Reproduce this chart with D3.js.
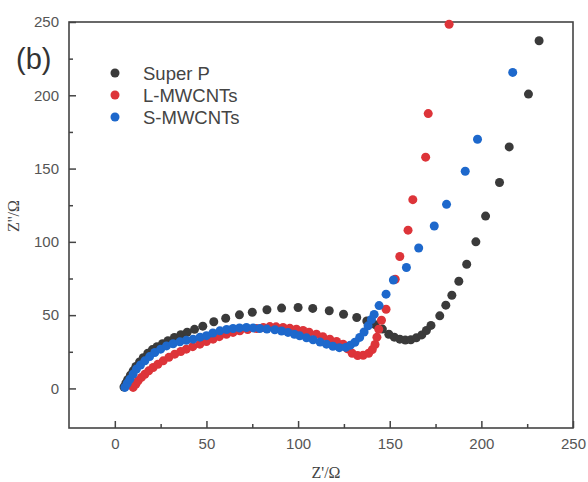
<html>
<head>
<meta charset="utf-8">
<script src="https://cdn.jsdelivr.net/npm/d3@7"></script>
<style>
  body { margin: 0; background: white; }
  svg { display: block; }
  .tick text { font-family: "Liberation Sans", Arial, sans-serif; font-size: 15px; fill: #555; }
  .tick line { stroke: #444; stroke-width: 1.5; }
</style>
</head>
<body>
<svg id="chart"></svg>
<script>
// series names and colours, in legend order
let seriesNames = ["Super P", "L-MWCNTs", "S-MWCNTs"];
let seriesColors = ["#3a3a3a", "#dd3439", "#1d68cc"];

// tick values
let xTicks = [0, 50, 100, 150, 200, 250];
let xMinor = [25, 75, 125, 175, 225];
let yTicks = [0, 50, 100, 150, 200, 250];
let yMinor = [25, 75, 125, 175, 225];

// [Z', Z''] points
let superP = [
  [5,1],[6,3.5],[7,6],[8.5,9],[10,12],[11.5,15],[13.5,18],[15.5,21],[18,24],[20.5,26.5],
  [23,28.5],[26,30.5],[29,32.5],[32.5,34.8],[36,36.6],[39.5,38.3],[43.5,40.3],[48,42.5],
  [54,45.5],[60.5,47.9],[68,50.2],[75,52],[83,53.7],[91,54.8],[100,55.2],[108,54.6],
  [117,53],[124.8,50.6],[132,48.4],[137.5,46],[142,43.5],[146,40.5],[149.5,37],[152.5,35],
  [155.5,33.6],[158.5,33],[161.5,33.2],[164.5,34.5],[167.5,36.5],[170,39.5],[172.5,43],
  [177.3,49.5],[180.6,56.8],[183.9,63.6],[187.7,73.1],[192,84.7],[197,100],[202.3,117.6],
  [209.9,140.5],[215.2,164.8],[225.7,200.8],[231.5,237.2]
];
let lMwcnts = [
  [10,0.7],[11.5,3],[12.7,5.2],[14.5,7.5],[16.4,9.7],[18.5,12],[20.9,14.3],[23.5,16.5],
  [26.4,18.8],[29.5,21.2],[32.7,23.4],[36,25.2],[39,26.8],[42.5,28.5],[46.4,30.2],[50,32],
  [53.6,33.6],[57,35.3],[60.9,37],[64.5,38.2],[68.2,39.3],[72.5,40.2],[77.3,40.9],[81,41.6],
  [84.6,42.2],[88,42],[91.8,41.6],[95.5,41],[99.1,40.4],[102.7,39.5],[106,38.3],[110,37],
  [113.5,35.3],[117.3,33.6],[121,32],[124.6,30.2],[127,27],[129.5,24],[132.5,22.5],
  [135.5,22.6],[138.5,24],[140.5,26.5],[142,30],[143,35],[144,40.4],[145.5,46.5],[148,54],
  [153,74.5],[155.5,90],[160,108],[162.6,128.8],[169.6,157.8],[171,187.5],[182.4,248.5]
];
let sMwcnts = [
  [5.5,0.7],[6.8,3.5],[8.2,6.3],[10,9.8],[11.8,13.2],[14,16],[16.4,18.8],[19,21.7],
  [21.8,24.5],[25,26.8],[28.2,29],[31.8,30.5],[35.5,31.8],[39,32.8],[42.7,33.6],[46.5,35],
  [50,36],[53.5,37.8],[57.3,39.3],[61,40.2],[64.5,40.9],[68,41.3],[71.8,41.6],[75.5,41.3],
  [79.1,40.9],[83,40.5],[87.3,40],[91,39.2],[94.5,38.2],[98,37],[100.9,35.9],[104.6,34.5],
  [108.2,33.2],[112,31.6],[115.5,30.2],[119,28.8],[122.5,27.8],[126,28],[128.5,29.5],
  [131,31.5],[133.6,34.8],[136,38.5],[138.2,42.7],[140,47],[141.5,50.5],[144.2,56.5],
  [148,64.3],[152,74],[159.1,82.5],[165.8,95.8],[174.3,110.8],[181,125.6],[191.2,148.2],
  [197.9,170],[217.1,215.6]
];

let allSeries = [superP, lMwcnts, sMwcnts];

let width = 588, height = 482;
let margin = { top: 22, right: 15, bottom: 54, left: 69 };

let svg = d3.select("#chart").attr("width", width).attr("height", height);

let xScale = d3.scaleLinear().domain([-25, 250]).range([margin.left, width - margin.right]);
let yScale = d3.scaleLinear().domain([-27, 250]).range([height - margin.bottom, margin.top]);

// ticks point inward, labels outside
svg.append("g")
  .attr("transform", `translate(0,${height - margin.bottom})`)
  .call(d3.axisBottom(xScale).tickValues(xTicks).tickSize(-7).tickPadding(10))
  .call(g => g.select(".domain").remove());
svg.append("g")
  .attr("transform", `translate(0,${height - margin.bottom})`)
  .call(d3.axisBottom(xScale).tickValues(xMinor).tickSize(-4).tickFormat(""))
  .call(g => g.select(".domain").remove());

svg.append("g")
  .attr("transform", `translate(${margin.left},0)`)
  .call(d3.axisLeft(yScale).tickValues(yTicks).tickSize(-7).tickPadding(10))
  .call(g => g.select(".domain").remove());
svg.append("g")
  .attr("transform", `translate(${margin.left},0)`)
  .call(d3.axisLeft(yScale).tickValues(yMinor).tickSize(-4).tickFormat(""))
  .call(g => g.select(".domain").remove());

// frame
svg.append("rect")
  .attr("x", margin.left).attr("y", margin.top)
  .attr("width", width - margin.left - margin.right)
  .attr("height", height - margin.top - margin.bottom)
  .attr("fill", "none").attr("stroke", "#444").attr("stroke-width", 1.6);

// points, clipped to plot area
svg.append("clipPath").attr("id", "plotClip")
  .append("rect")
  .attr("x", margin.left).attr("y", margin.top - 5)
  .attr("width", width - margin.left - margin.right)
  .attr("height", height - margin.top - margin.bottom + 5);

let plot = svg.append("g").attr("clip-path", "url(#plotClip)");
allSeries.forEach((data, i) => {
  plot.append("g").selectAll("circle")
    .data(data)
    .enter().append("circle")
    .attr("cx", d => xScale(d[0]))
    .attr("cy", d => yScale(d[1]))
    .attr("r", 4.5)
    .attr("fill", seriesColors[i]);
});

// legend
let legend = svg.append("g");
seriesNames.forEach((name, i) => {
  let y = 73 + i * 22;
  legend.append("circle").attr("cx", 115).attr("cy", y).attr("r", 4.5).attr("fill", seriesColors[i]);
  legend.append("text").attr("x", 143).attr("y", y + 6.5)
    .attr("font-family", "Liberation Sans, Arial, sans-serif")
    .attr("font-size", 18.5).attr("fill", "#444").text(name);
});

// panel label
svg.append("text").attr("x", 16).attr("y", 69)
  .attr("font-family", "Liberation Sans, Arial, sans-serif")
  .attr("font-size", 29).attr("fill", "#333").text("(b)");

// axis titles
svg.append("text").attr("x", 326).attr("y", 478).attr("text-anchor", "middle")
  .attr("font-family", "Liberation Serif, Times New Roman, serif")
  .attr("font-size", 16).attr("fill", "#444").text("Z'/Ω");
svg.append("text")
  .attr("transform", "translate(19,216) rotate(-90)")
  .attr("text-anchor", "middle")
  .attr("font-family", "Liberation Serif, Times New Roman, serif")
  .attr("font-size", 16).attr("fill", "#444").text("Z''/Ω");
</script>
</body>
</html>
